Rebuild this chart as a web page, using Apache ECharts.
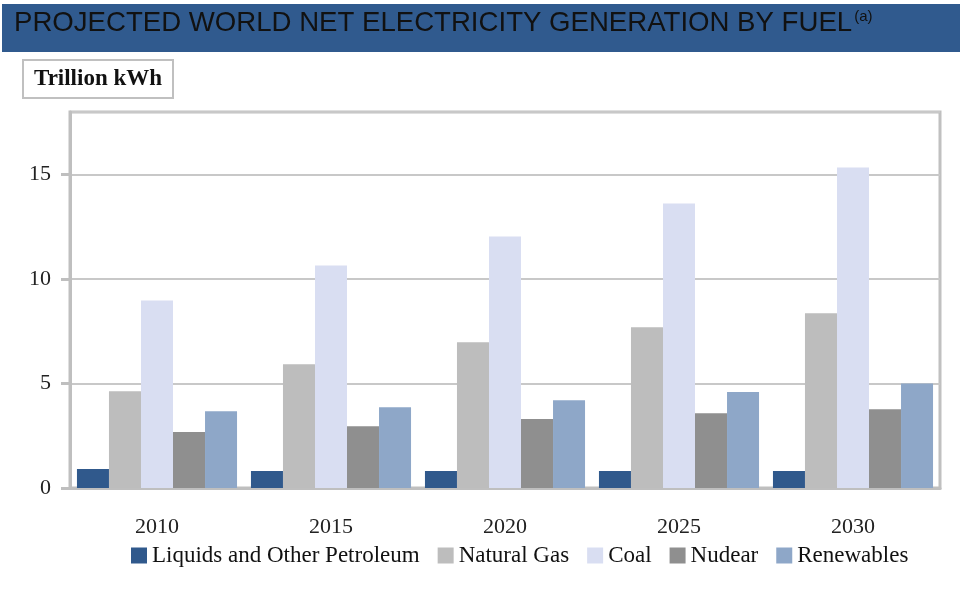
<!DOCTYPE html>
<html>
<head>
<meta charset="utf-8">
<script src="https://cdn.jsdelivr.net/npm/echarts@6/dist/echarts.min.js"></script>
<style>
html,body{margin:0;padding:0;background:#fff;}
#chart{width:960px;height:599px;}
</style>
</head>
<body>
<div id="chart"></div>
<script>
// 年份
var years = ['2010', '2015', '2020', '2025', '2030'];
// 各燃料数据 (Trillion kWh)
var liquids = [0.91, 0.81, 0.81, 0.81, 0.81];
var naturalGas = [4.63, 5.92, 6.98, 7.69, 8.36];
var coal = [8.98, 10.65, 12.04, 13.62, 15.34];
var nuclear = [2.68, 2.96, 3.30, 3.58, 3.77];
var renewables = [3.68, 3.87, 4.20, 4.59, 5.00];
var seriesNames = ['Liquids and Other Petroleum', 'Natural Gas', 'Coal', 'Nudear', 'Renewables'];

var serif = '"Liberation Serif", "DejaVu Serif", serif';
var sans = '"Liberation Sans", Arial, sans-serif';

var myChart = echarts.init(document.getElementById('chart'));

function bar(name, data) {
    return {
        name: name,
        type: 'bar',
        barGap: '0%',
        barCategoryGap: '8%',
        data: data
    };
}

var option = {
    color: ['#30598C', '#BDBDBD', '#D9DEF2', '#8F8F8F', '#8EA7C8'],
    graphic: [
        {
            type: 'rect',
            z: -10,
            shape: {x: 2, y: 4, width: 958, height: 48},
            style: {fill: '#305A8E'}
        }
    ],
    title: [
        {
            text: '{m|PROJECTED WORLD NET ELECTRICITY GENERATION BY FUEL}{s|(a)}',
            left: 14,
            top: 9,
            padding: 0,
            textStyle: {
                rich: {
                    m: {fontFamily: sans, fontSize: 27.6, fontWeight: 'normal', color: '#111', verticalAlign: 'bottom'},
                    s: {fontFamily: sans, fontSize: 15, fontWeight: 'normal', color: '#111', verticalAlign: 'top', padding: [0, 0, 12, 2]}
                }
            }
        },
        {
            text: 'Trillion kWh',
            left: 23,
            top: 60,
            borderColor: '#C0C0C0',
            borderWidth: 2,
            padding: [8, 11, 7, 11],
            textStyle: {fontFamily: serif, fontSize: 23, fontWeight: 'bold', color: '#111'}
        }
    ],
    legend: {
        data: seriesNames,
        left: 126,
        top: 539,
        itemWidth: 16,
        itemHeight: 16,
        itemGap: 18,
        icon: 'rect',
        textStyle: {fontFamily: serif, fontSize: 23, color: '#111'}
    },
    grid: {
        left: 70,
        right: 20,
        top: 112,
        bottom: 111,
        show: true,
        borderColor: '#C0C0C0',
        borderWidth: 3
    },
    xAxis: {
        type: 'category',
        data: years,
        axisLine: {lineStyle: {color: '#BFBFBF', width: 3}},
        axisTick: {length: 8, lineStyle: {color: '#BFBFBF', width: 3}},
        axisLabel: {fontFamily: serif, fontSize: 22, color: '#222', margin: 28}
    },
    yAxis: {
        type: 'value',
        min: 0,
        max: 18,
        interval: 5,
        axisLine: {show: true, lineStyle: {color: '#BFBFBF', width: 3}},
        axisTick: {show: true, length: 9, lineStyle: {color: '#BFBFBF', width: 3}},
        axisLabel: {fontFamily: serif, fontSize: 22, color: '#222', margin: 19, showMaxLabel: false},
        splitLine: {lineStyle: {color: '#C8C8C8', width: 2}}
    },
    series: [
        bar(seriesNames[0], liquids),
        bar(seriesNames[1], naturalGas),
        bar(seriesNames[2], coal),
        bar(seriesNames[3], nuclear),
        bar(seriesNames[4], renewables)
    ]
};

myChart.setOption(option);
</script>
</body>
</html>
